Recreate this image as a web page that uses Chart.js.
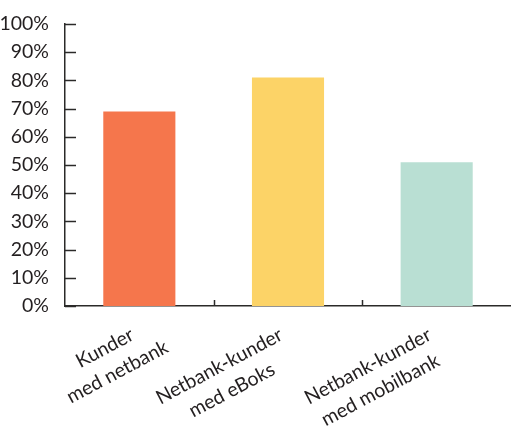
<!DOCTYPE html>
<html>
<head>
<meta charset="utf-8">
<script src="https://cdn.jsdelivr.net/npm/chart.js@4"></script>
<style>
  html, body { margin: 0; padding: 0; background: #fff; }
  #chart { display: block; }
</style>
</head>
<body>
<canvas id="chart" width="511" height="426"></canvas>
<script>
// Share of customers, in percent
const categories = [
  ['Kunder', 'med netbank'],
  ['Netbank-kunder', 'med eBoks'],
  ['Netbank-kunder', 'med mobilbank']
];
const values = [69, 81, 51];
const barColors = ['#F5764C', '#FCD367', '#B9DFD3'];
const yTicks = [0, 10, 20, 30, 40, 50, 60, 70, 80, 90, 100];

const textColor = '#231F20';
const axisColor = '#2B2A29';
const fontFamily = 'Lato, "Open Sans", sans-serif';
const fontSize = 19.5;

// Inward tick marks and rotated, two-line category labels
const axisDecor = {
  id: 'axisDecor',
  afterDraw(chart) {
    const ctx = chart.ctx;
    const x = chart.scales.x;
    const y = chart.scales.y;
    const area = chart.chartArea;
    ctx.save();
    ctx.strokeStyle = axisColor;
    ctx.lineWidth = 1.5;
    // y ticks pointing into the plot
    yTicks.forEach(v => {
      const py = Math.round(y.getPixelForValue(v)) + 0.5;
      ctx.beginPath();
      ctx.moveTo(area.left, py);
      ctx.lineTo(area.left + 11, py);
      ctx.stroke();
    });
    // x ticks between categories, pointing up
    for (let i = 1; i < categories.length; i++) {
      const px = Math.round((x.getPixelForValue(i - 1) + x.getPixelForValue(i)) / 2) + 0.5;
      ctx.beginPath();
      ctx.moveTo(px, area.bottom);
      ctx.lineTo(px, area.bottom - 6);
      ctx.stroke();
    }
    // category labels, rotated; first line ends near the category centre
    ctx.fillStyle = textColor;
    ctx.font = fontSize + 'px ' + fontFamily;
    ctx.textAlign = 'center';
    ctx.textBaseline = 'alphabetic';
    categories.forEach((lines, i) => {
      const px = x.getPixelForValue(i);
      const w1 = ctx.measureText(lines[0]).width;
      ctx.save();
      ctx.translate(px - 4, area.bottom + 33);
      ctx.rotate(-28 * Math.PI / 180);
      lines.forEach((line, j) => {
        ctx.fillText(line, -w1 / 2, j * 27);
      });
      ctx.restore();
    });
    ctx.restore();
  }
};

new Chart(document.getElementById('chart'), {
  type: 'bar',
  data: {
    labels: categories,
    datasets: [{
      data: values,
      backgroundColor: barColors,
      borderWidth: 0,
      barPercentage: 0.485,
      categoryPercentage: 1
    }]
  },
  options: {
    responsive: false,
    animation: false,
    devicePixelRatio: 1,
    layout: { padding: { top: 24, right: 0, left: 0, bottom: 0 } },
    plugins: {
      legend: { display: false },
      tooltip: { enabled: false }
    },
    scales: {
      x: {
        offset: true,
        grid: { display: false },
        border: { display: true, color: axisColor, width: 1.5 },
        ticks: { display: false },
        afterFit(scale) { scale.height = 120; }
      },
      y: {
        min: 0,
        max: 100,
        grid: { display: false },
        border: { display: true, color: axisColor, width: 1.5 },
        ticks: {
          stepSize: 10,
          padding: 8,
          color: textColor,
          font: { family: fontFamily, size: fontSize },
          callback: v => v + '%'
        },
        afterFit(scale) { scale.width = 65; }
      }
    }
  },
  plugins: [axisDecor]
});
</script>
</body>
</html>
